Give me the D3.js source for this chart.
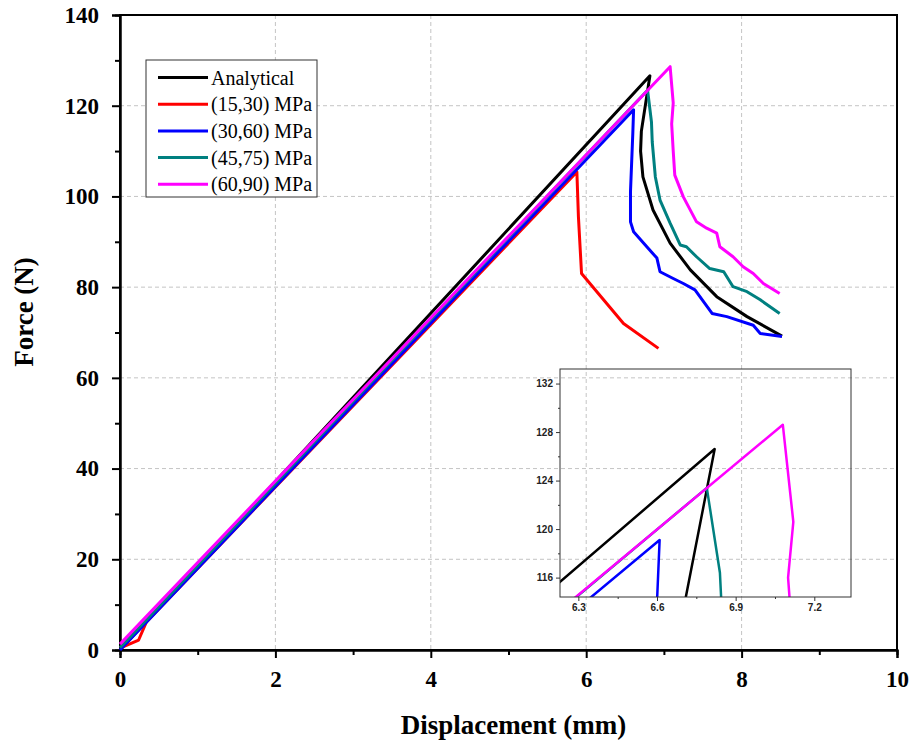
<!DOCTYPE html>
<html lang="en">
<head>
    <meta charset="UTF-8">
    <title>Force vs Displacement</title>
    <style>
        body { margin: 0; background: #fff; }
        svg { display: block; }
        .grid line { stroke: #c4c4c4; stroke-width: 1; stroke-dasharray: 4,3; }
        .main-axis path, .main-axis line { stroke: #000; stroke-width: 2; }
        .main-axis text { font-family: "Liberation Serif", "Times New Roman", serif; font-weight: bold; font-size: 23px; fill: #000; }
        .inset-axis path, .inset-axis line { stroke: #333; stroke-width: 1; }
        .inset-axis text { font-family: "Liberation Sans", Arial, sans-serif; font-weight: bold; font-size: 10px; fill: #222; }
    </style>
</head>
<body>
<div id="chart"></div>
<script src="https://cdn.jsdelivr.net/npm/d3@7"></script>
<script>
// series data: [displacement (mm), force (N)]
const analytical = [[0, 0], [6.82, 126.6], [6.71, 114.4], [6.70, 110.0], [6.73, 104.3], [6.86, 97.0],
    [7.08, 89.7], [7.34, 83.8], [7.68, 77.9], [8.07, 73.5], [8.52, 69.2]];
const mpa15_30 = [[0, 0.4], [0.15, 1.5], [0.24, 2.2], [0.34, 6.2], [5.88, 105.4], [5.90, 95.5],
    [5.94, 83.0], [6.48, 72.0], [6.93, 66.5]];
const mpa30_60 = [[0, 0], [6.61, 119.1], [6.60, 114.0], [6.57, 101.0], [6.57, 94.4], [6.61, 92.2],
    [6.78, 88.9], [6.91, 86.4], [6.95, 83.4], [7.12, 81.9], [7.25, 80.8], [7.40, 79.4], [7.51, 76.8],
    [7.62, 74.2], [7.81, 73.5], [8.15, 71.6], [8.24, 69.8], [8.52, 69.1]];
const mpa45_75 = [[0, 0.5], [6.79, 123.4], [6.84, 116.4], [6.85, 112.0], [6.89, 104.3], [6.95, 99.2],
    [7.08, 94.1], [7.21, 89.3], [7.29, 88.9], [7.42, 86.7], [7.59, 84.1], [7.77, 83.4], [7.89, 80.1],
    [8.07, 79.0], [8.24, 77.2], [8.49, 74.2]];
const mpa60_90 = [[0, 1.3], [7.08, 128.6], [7.12, 120.6], [7.10, 116.0], [7.12, 110.0], [7.14, 104.7],
    [7.25, 99.9], [7.42, 94.4], [7.55, 93.0], [7.68, 91.9], [7.72, 88.9], [7.89, 86.7], [8.02, 84.5],
    [8.15, 83.0], [8.28, 80.8], [8.49, 78.6]];

const seriesNames = ["Analytical", "(15,30) MPa", "(30,60) MPa", "(45,75) MPa", "(60,90) MPa"];
const seriesColors = ["#000000", "#ff0000", "#0000ff", "#008080", "#ff00ff"];
const seriesData = [analytical, mpa15_30, mpa30_60, mpa45_75, mpa60_90];

const xTicks = [0, 2, 4, 6, 8, 10];
const xMinor = [1, 3, 5, 7, 9];
const yTicks = [0, 20, 40, 60, 80, 100, 120, 140];
const yMinor = [10, 30, 50, 70, 90, 110, 130];
const insetXTicks = [6.3, 6.6, 6.9, 7.2];
const insetXMinor = [6.45, 6.75, 7.05];
const insetYTicks = [116, 120, 124, 128, 132];
const insetYMinor = [118, 122, 126, 130];

const W = 915, H = 742;
const margin = {top: 15, right: 18, bottom: 92, left: 120};
const width = W - margin.left - margin.right,
      height = H - margin.top - margin.bottom;

const svg = d3.select("#chart").append("svg")
    .attr("width", W).attr("height", H);

const g = svg.append("g")
    .attr("transform", "translate(" + margin.left + "," + margin.top + ")");

const x = d3.scaleLinear().domain([0, 10]).range([0, width]);
const y = d3.scaleLinear().domain([0, 140]).range([height, 0]);

// gridlines
g.append("g").attr("class", "grid")
    .selectAll("line").data(xTicks.filter(d => d > 0 && d < 10)).join("line")
    .attr("x1", d => x(d)).attr("x2", d => x(d))
    .attr("y1", 0).attr("y2", height);
g.append("g").attr("class", "grid")
    .selectAll("line").data(yTicks.filter(d => d > 0 && d < 140)).join("line")
    .attr("x1", 0).attr("x2", width)
    .attr("y1", d => y(d)).attr("y2", d => y(d));

// frame
g.append("rect")
    .attr("x", 0).attr("y", 0).attr("width", width).attr("height", height)
    .attr("fill", "none").attr("stroke", "#000").attr("stroke-width", 2);

// axes: major + minor ticks
g.append("g").attr("class", "main-axis")
    .attr("transform", "translate(0," + height + ")")
    .call(d3.axisBottom(x).tickValues(xTicks).tickSize(8).tickPadding(13).tickFormat(d3.format("d")));
g.append("g").attr("class", "main-axis")
    .attr("transform", "translate(0," + height + ")")
    .call(d3.axisBottom(x).tickValues(xMinor).tickSize(5).tickFormat(""));
g.append("g").attr("class", "main-axis")
    .call(d3.axisLeft(y).tickValues(yTicks).tickSize(8).tickPadding(13).tickFormat(d3.format("d")));
g.append("g").attr("class", "main-axis")
    .call(d3.axisLeft(y).tickValues(yMinor).tickSize(5).tickFormat(""));

// curves
const line = d3.line().x(d => x(d[0])).y(d => y(d[1]));
seriesData.forEach((s, i) => {
    g.append("path")
        .datum(s)
        .attr("fill", "none")
        .attr("stroke", seriesColors[i])
        .attr("stroke-width", 3)
        .attr("stroke-linejoin", "round")
        .attr("d", line);
});

// axis titles
svg.append("text")
    .attr("x", margin.left + width / 2 + 5).attr("y", 734)
    .attr("text-anchor", "middle")
    .style("font-family", "'Liberation Serif', 'Times New Roman', serif")
    .style("font-weight", "bold").style("font-size", "27px")
    .text("Displacement (mm)");
svg.append("text")
    .attr("transform", "translate(33,312) rotate(-90)")
    .attr("text-anchor", "middle")
    .style("font-family", "'Liberation Serif', 'Times New Roman', serif")
    .style("font-weight", "bold").style("font-size", "27px")
    .text("Force (N)");

// legend
const legend = svg.append("g").attr("transform", "translate(146,60)");
legend.append("rect")
    .attr("width", 171).attr("height", 137)
    .attr("fill", "#fff").attr("stroke", "#333").attr("stroke-width", 1);
seriesNames.forEach((name, i) => {
    const row = legend.append("g").attr("transform", "translate(0," + (17.5 + i * 26.7) + ")");
    row.append("line")
        .attr("x1", 12).attr("x2", 62)
        .attr("stroke", seriesColors[i]).attr("stroke-width", 3);
    row.append("text")
        .attr("x", 65).attr("y", 7)
        .style("font-family", "'Liberation Serif', 'Times New Roman', serif")
        .style("font-size", "20px")
        .text(name);
});

// inset zoom of the peaks
const inset = {left: 560, top: 369, width: 291, height: 228};
const ix = d3.scaleLinear().domain([6.23, 7.34]).range([0, inset.width]);
const iy = d3.scaleLinear().domain([114.4, 133.2]).range([inset.height, 0]);
const ig = svg.append("g").attr("transform", "translate(" + inset.left + "," + inset.top + ")");

ig.append("clipPath").attr("id", "insetClip")
    .append("rect").attr("width", inset.width).attr("height", inset.height);

const iline = d3.line().x(d => ix(d[0])).y(d => iy(d[1]));
const icurves = ig.append("g").attr("clip-path", "url(#insetClip)");
seriesData.forEach((s, i) => {
    icurves.append("path")
        .datum(s)
        .attr("fill", "none")
        .attr("stroke", seriesColors[i])
        .attr("stroke-width", 2.5)
        .attr("stroke-linejoin", "round")
        .attr("d", iline);
});

ig.append("rect")
    .attr("width", inset.width).attr("height", inset.height)
    .attr("fill", "none").attr("stroke", "#333").attr("stroke-width", 1);

ig.append("g").attr("class", "inset-axis")
    .attr("transform", "translate(0," + inset.height + ")")
    .call(d3.axisBottom(ix).tickValues(insetXTicks).tickSize(4).tickPadding(3).tickFormat(d3.format(".1f")));
ig.append("g").attr("class", "inset-axis")
    .attr("transform", "translate(0," + inset.height + ")")
    .call(d3.axisBottom(ix).tickValues(insetXMinor).tickSize(2).tickFormat(""));
ig.append("g").attr("class", "inset-axis")
    .call(d3.axisLeft(iy).tickValues(insetYTicks).tickSize(4).tickPadding(3).tickFormat(d3.format("d")));
ig.append("g").attr("class", "inset-axis")
    .call(d3.axisLeft(iy).tickValues(insetYMinor).tickSize(2).tickFormat(""));
ig.selectAll(".inset-axis .domain").remove();
</script>
</body>
</html>
